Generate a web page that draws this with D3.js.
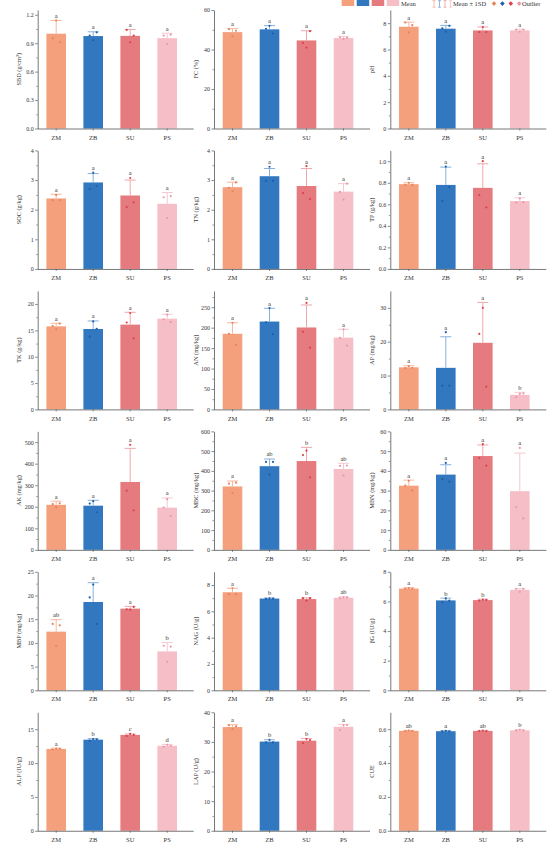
<!DOCTYPE html>
<html>
<head>
<meta charset="utf-8">
<script src="https://cdn.jsdelivr.net/npm/d3@7"></script>
<style>
  body { margin: 0; background: #fff; }
  svg { display: block; font-family: "Liberation Serif", "DejaVu Serif", serif; }
</style>
</head>
<body>
<div id="chart"></div>
<script>
// groups and panel titles
var groups = ["ZM", "ZB", "SU", "PS"];
var titles = ["SBD (g/cm\u00B3)", "FC (%)", "pH",
  "SOC (g/kg)", "TN (g/kg)", "TP (g/kg)",
  "TK (g/kg)", "AN (mg/kg)", "AP (mg/kg)",
  "AK (mg/kg)", "MBC (mg/kg)", "MBN (mg/kg)",
  "MBP (mg/kg)", "NAG (U/g)", "\u03B2G (IU/g)",
  "ALP (IU/g)", "LAP (U/g)", "CUE"];

// y axis top + tick labels per panel
var yMax = [1.25, 60, 9, 4, 4, 1.1, 22.5, 290, 35, 550, 600, 60, 25, 9, 8, 17.5, 40, 0.7];
var yTicks = [
  [0, 0.3, 0.6, 0.9, 1.2], [0, 20, 40, 60], [0, 2, 4, 6, 8],
  [0, 1, 2, 3, 4], [0, 1, 2, 3, 4], [0, 0.2, 0.4, 0.6, 0.8, 1.0],
  [0, 5, 10, 15, 20], [0, 50, 100, 150, 200, 250], [0, 10, 20, 30],
  [0, 100, 200, 300, 400, 500], [0, 100, 200, 300, 400, 500, 600], [0, 10, 20, 30, 40, 50, 60],
  [0, 5, 10, 15, 20, 25], [0, 2, 4, 6, 8], [0, 2, 4, 6, 8],
  [0, 5, 10, 15], [0, 10, 20, 30, 40], [0, 0.2, 0.4, 0.6]
];

// means (ZM, ZB, SU, PS)
var means = [
  [1.00, 0.975, 0.977, 0.953], [48.8, 50.2, 44.6, 45.8], [7.73, 7.58, 7.45, 7.45],
  [2.38, 2.92, 2.48, 2.20], [2.76, 3.13, 2.80, 2.61], [0.787, 0.78, 0.753, 0.63],
  [15.77, 15.27, 16.1, 17.23], [185, 215, 200.5, 175.7], [12.43, 12.27, 19.67, 4.3],
  [209, 205, 315, 196], [321, 423.6, 449.7, 409.7], [32.5, 38.1, 47.5, 29.7],
  [12.37, 18.63, 17.23, 8.2], [7.45, 6.97, 6.93, 7.03], [6.87, 6.07, 6.09, 6.78],
  [12.08, 13.45, 14.15, 12.55], [35.0, 30.1, 30.4, 35.1], [0.59, 0.588, 0.59, 0.593]
];

// standard deviations
var sds = [
  [0.14, 0.045, 0.068, 0.052], [1.8, 1.9, 4.9, 0.9], [0.35, 0.25, 0.26, 0.10],
  [0.14, 0.30, 0.52, 0.38], [0.17, 0.26, 0.59, 0.27], [0.013, 0.165, 0.223, 0.03],
  [0.58, 1.53, 2.34, 0.83], [27, 32.5, 55.1, 20.3], [0.47, 9.18, 11.93, 0.74],
  [17, 25, 156, 45], [27.6, 36.4, 69.3, 28.3], [2.8, 5.0, 5.6, 19.3],
  [2.53, 4.07, 0.47, 1.87], [0.3, 0.04, 0.09, 0.07], [0.06, 0.15, 0.06, 0.07],
  [0.12, 0.15, 0.15, 0.2], [0.8, 0.6, 0.7, 0.8], [0.003, 0.003, 0.003, 0.004]
];

// raw replicate values (3 per group)
var points = [
  [[0.95, 1.14, 0.91], [0.98, 0.93, 1.015], [1.04, 0.91, 0.98], [0.98, 0.89, 0.99]],
  [[50.3, 46.6, 49.5], [50.5, 52.0, 48.1], [43.4, 41.0, 49.3], [46.2, 45.3, 46.0]],
  [[8.05, 7.30, 7.85], [7.60, 7.35, 7.80], [7.33, 7.70, 7.33], [7.50, 7.35, 7.50]],
  [[2.32, 2.50, 2.32], [2.70, 3.25, 2.80], [2.09, 3.07, 2.25], [2.42, 1.72, 2.46]],
  [[2.74, 2.62, 2.92], [2.97, 3.45, 2.97], [2.56, 3.47, 2.36], [2.60, 2.34, 2.88]],
  [[0.78, 0.80, 0.78], [0.63, 0.95, 0.76], [0.686, 1.00, 0.572], [0.615, 0.655, 0.62]],
  [[15.8, 15.2, 16.3], [13.8, 16.7, 15.3], [16.5, 18.3, 13.5], [17.1, 18.0, 16.6]],
  [[185, 212, 158], [213, 248, 184], [190, 260.5, 151], [175, 196, 156]],
  [[12.2, 12.8, 12.3], [7.0, 22.8, 7.0], [22.3, 30.0, 6.7], [3.6, 4.6, 4.7]],
  [[212, 198, 216], [215, 226, 174.5], [274.7, 487.5, 183.6], [196, 235, 157]],
  [[335, 288, 340], [445, 380.7, 445], [480, 502, 367], [425, 377, 427]],
  [[32.5, 35.0, 30.1], [35.8, 44.0, 34.5], [46.5, 53.5, 42.6], [21.6, 51.6, 15.9]],
  [[14.0, 9.4, 13.7], [19.6, 22.3, 14.0], [17.1, 17.0, 17.6], [9.4, 6.0, 9.2]],
  [[7.3, 7.75, 7.3], [6.95, 6.98, 6.97], [7.0, 6.8, 7.0], [7.0, 7.05, 7.05]],
  [[6.85, 6.9, 6.85], [5.95, 6.2, 6.05], [6.05, 6.12, 6.1], [6.85, 6.65, 6.85]],
  [[12.0, 12.15, 12.1], [13.3, 13.55, 13.5], [14.0, 14.3, 14.15], [12.4, 12.7, 12.55]],
  [[35.6, 34.3, 35.2], [29.8, 30.7, 29.8], [29.6, 31.0, 30.6], [34.0, 35.6, 35.7]],
  [[0.589, 0.592, 0.589], [0.587, 0.590, 0.587], [0.589, 0.592, 0.589], [0.591, 0.596, 0.592]]
];

// significance letters
var letters = [
  ["a", "a", "a", "a"], ["a", "a", "a", "a"], ["a", "a", "a", "a"],
  ["a", "a", "a", "a"], ["a", "a", "a", "a"], ["a", "a", "a", "a"],
  ["a", "a", "a", "a"], ["a", "a", "a", "a"], ["a", "a", "a", "b"],
  ["a", "a", "a", "a"], ["a", "ab", "b", "ab"], ["a", "a", "a", "a"],
  ["ab", "a", "a", "b"], ["a", "b", "b", "ab"], ["a", "b", "b", "a"],
  ["a", "b", "c", "d"], ["a", "b", "b", "a"], ["ab", "a", "ab", "b"]
];

// styling
var barColor = ["#F4A07C", "#3178C1", "#E57B7E", "#F6BFC8"];
var errColor = ["#F5B094", "#78A8DA", "#EE9EA2", "#F4C3CB"];
var ptColor = ["#E8845C", "#1F5FA8", "#D9434F", "#EC98A8"];
var axisColor = "#555";
var textColor = "#333";
var jitter = [-3.5, 0, 3.5];

var W = 550, H = 852;
var colX = [37.7, 214, 390.3];
var rowTop = 10, rowStep = 140.45, plotH = 118.5;
var bandW = 148, axisLen = 156;

var svg = d3.select("#chart").append("svg")
  .attr("width", W).attr("height", H);
svg.append("rect").attr("width", W).attr("height", H).attr("fill", "#fff");

var x = d3.scaleBand().domain(groups).range([0, bandW])
  .paddingInner(0.47).paddingOuter(0.235);

titles.forEach(function(title, p) {
  var col = p % 3, row = Math.floor(p / 3);
  var g = svg.append("g")
    .attr("transform", "translate(" + colX[col] + "," + (rowTop + row * rowStep) + ")");

  var y = d3.scaleLinear().domain([0, yMax[p]]).range([plotH, 0]);
  var step = yTicks[p][1] - yTicks[p][0];
  var fmt = step < 1 ? d3.format(".1f") : d3.format("d");

  // bars
  g.selectAll("rect.bar").data(groups).enter().append("rect")
    .attr("class", "bar")
    .attr("x", function(d) { return x(d); })
    .attr("width", x.bandwidth())
    .attr("y", function(d, i) { return y(means[p][i]); })
    .attr("height", function(d, i) { return plotH - y(means[p][i]); })
    .attr("fill", function(d, i) { return barColor[i]; });

  // error bars (mean + 1SD)
  groups.forEach(function(d, i) {
    var cx = x(d) + x.bandwidth() / 2;
    var top = y(means[p][i] + sds[p][i]);
    g.append("line")
      .attr("x1", cx).attr("x2", cx)
      .attr("y1", y(means[p][i])).attr("y2", top)
      .attr("stroke", errColor[i]).attr("stroke-width", 0.9);
    g.append("line")
      .attr("x1", cx - 5.5).attr("x2", cx + 5.5)
      .attr("y1", top).attr("y2", top)
      .attr("stroke", errColor[i]).attr("stroke-width", 0.9);

    // raw points
    points[p][i].forEach(function(v, k) {
      g.append("circle")
        .attr("cx", cx + jitter[k]).attr("cy", y(v))
        .attr("r", 1.1).attr("fill", ptColor[i]);
    });

    // letter
    var hi = Math.max(means[p][i] + sds[p][i], d3.max(points[p][i]));
    g.append("text")
      .attr("x", cx).attr("y", y(hi) - 2.5)
      .attr("text-anchor", "middle")
      .attr("font-size", 6.5).attr("fill", textColor)
      .text(letters[p][i]);
  });

  // x axis
  var xa = g.append("g").attr("transform", "translate(0," + plotH + ")")
    .call(d3.axisBottom(x).tickSize(2).tickSizeOuter(0));
  xa.select(".domain").attr("d", "M0,0.5H" + axisLen);
  xa.selectAll("line").attr("stroke", axisColor).attr("stroke-width", 0.7);
  xa.select(".domain").attr("stroke", axisColor).attr("stroke-width", 0.8);
  xa.selectAll("text").attr("font-size", 6.5).attr("fill", textColor)
    .attr("font-family", "Liberation Serif").attr("dy", "0.95em");

  // y axis major
  var ya = g.append("g")
    .call(d3.axisLeft(y).tickValues(yTicks[p]).tickFormat(fmt).tickSize(2.5).tickSizeOuter(0));
  ya.select(".domain").attr("stroke", axisColor).attr("stroke-width", 0.8);
  ya.selectAll("line").attr("stroke", axisColor).attr("stroke-width", 0.7);
  ya.selectAll("text").attr("font-size", 6).attr("fill", textColor)
    .attr("font-family", "Liberation Serif").attr("x", -4);

  // y axis minor ticks
  var minor = yTicks[p].map(function(t) { return t + step / 2; })
    .filter(function(t) { return t < yMax[p]; });
  var ym = g.append("g")
    .call(d3.axisLeft(y).tickValues(minor).tickFormat("").tickSize(1.5).tickSizeOuter(0));
  ym.select(".domain").remove();
  ym.selectAll("line").attr("stroke", axisColor).attr("stroke-width", 0.6);

  // y title
  g.append("text")
    .attr("transform", "translate(-16.5," + (plotH / 2) + ") rotate(-90)")
    .attr("text-anchor", "middle")
    .attr("font-size", 6.3).attr("fill", textColor)
    .text(title);
});

// legend
var lg = svg.append("g");
groups.forEach(function(d, i) {
  lg.append("rect").attr("x", 341.7 + 15 * i).attr("y", 0)
    .attr("width", 12.5).attr("height", 6).attr("fill", barColor[i]);
  var ex = 434 + 5.5 * i;
  lg.append("path")
    .attr("d", "M" + (ex - 1.5) + ",0.6H" + (ex + 1.5) + "M" + ex + ",0.6V7.2M" + (ex - 1.5) + ",7.2H" + (ex + 1.5))
    .attr("stroke", errColor[i]).attr("stroke-width", 0.8).attr("fill", "none");
  lg.append("path")
    .attr("d", "M0,-2.3L2.3,0L0,2.3L-2.3,0Z")
    .attr("transform", "translate(" + (494 + 8.4 * i) + ",3.6)")
    .attr("fill", ptColor[i]);
});
lg.append("text").attr("x", 401).attr("y", 5.8).attr("font-size", 6.5)
  .attr("fill", textColor).text("Mean");
lg.append("text").attr("x", 453).attr("y", 5.8).attr("font-size", 6.5)
  .attr("fill", textColor).text("Mean \u00B1 1SD");
lg.append("text").attr("x", 522).attr("y", 5.8).attr("font-size", 6.5)
  .attr("fill", textColor).text("Outlier");
</script>
</body>
</html>
